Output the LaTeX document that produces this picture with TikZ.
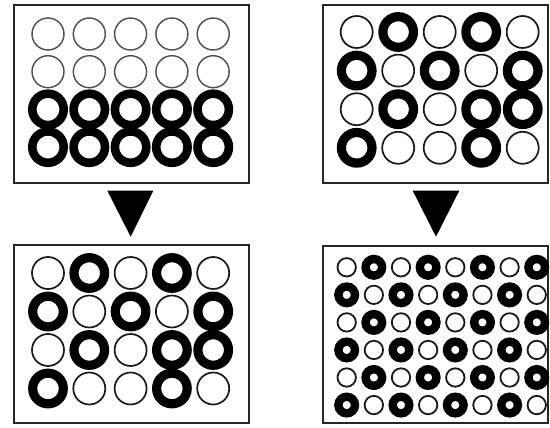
\documentclass[tikz,border=0pt]{standalone}
\begin{document}
\begin{tikzpicture}[x=1pt,y=-1pt,
  panel/.style={draw=black!85, line width=1.6pt, fill=white, inner sep=0pt, outer sep=0pt, anchor=north west},
  thinA/.style={draw=black!70, line width=1.4pt},
  thickA/.style={draw=black, line width=8.6pt},
  thinB/.style={draw=black!90, line width=1.7pt},
  thickB/.style={draw=black, line width=9.2pt},
  thinC/.style={draw=black!90, line width=1.8pt},
  thickC/.style={draw=black, line width=8.4pt},
  arrowtri/.style={fill=black}]
\useasboundingbox (0,0) rectangle (550,428);
\fill[white] (0,0) rectangle (550,428);
% panels
\node[panel, minimum width=235pt, minimum height=178pt] (p1) at (14,5) {};
\node[panel, minimum width=225.3pt, minimum height=178pt] (p2) at (322.7,5) {};
\node[panel, minimum width=235pt, minimum height=177.7pt] (p3) at (14,245) {};
\node[panel, minimum width=225.3pt, minimum height=176.7pt] (p4) at (322.7,246) {};
% panel 1
\foreach \row/\pat in {0/{0,0,0,0,0},1/{0,0,0,0,0},2/{1,1,1,1,1},3/{1,1,1,1,1}}{
  \foreach \k [count=\c from 0] in \pat {
    \ifnum\k=1
      \draw[thickA] ({48+41.3*\c},{34+37.7*\row}) circle (15.7);
    \else
      \draw[thinA] ({48+41.3*\c},{34+37.7*\row}) circle (16);
    \fi
  }
}
% panel 2
\foreach \row/\pat in {0/{0,1,0,1,0},1/{1,0,1,0,1},2/{0,1,0,1,1},3/{1,0,0,1,0}}{
  \foreach \k [count=\c from 0] in \pat {
    \ifnum\k=1
      \draw[thickB] ({356.7+41.5*\c},{32+38.6*\row}) circle (15.3);
    \else
      \draw[thinB] ({356.7+41.5*\c},{32+38.6*\row}) circle (16);
    \fi
  }
}
% panel 3
\foreach \row/\pat in {0/{0,1,0,1,0},1/{1,0,1,0,1},2/{0,1,0,1,1},3/{1,0,0,1,0}}{
  \foreach \k [count=\c from 0] in \pat {
    \ifnum\k=1
      \draw[thickB] ({48+41.3*\c},{273+38.5*\row}) circle (15.3);
    \else
      \draw[thinB] ({48+41.3*\c},{273+38.5*\row}) circle (16);
    \fi
  }
}
% panel 4
\foreach \row/\pat in {0/{0,1,0,1,0,1,0,1},1/{1,0,1,0,1,0,1,0},2/{0,1,0,1,0,1,0,1},3/{1,0,1,0,1,0,1,0},4/{0,1,0,1,0,1,0,1},5/{1,0,1,0,1,0,1,0}}{
  \foreach \k [count=\c from 0] in \pat {
    \ifnum\k=1
      \draw[thickC] ({346.7+27.15*\c},{267.3+27.55*\row}) circle (8.3);
    \else
      \draw[thinC] ({346.7+27.15*\c},{267.3+27.55*\row}) circle (9.2);
    \fi
  }
}
% arrows
\coordinate (t1) at (130.7,236.7);
\coordinate (t2) at (436,236.7);
\fill[arrowtri] (107.3,190.7) -- (153.3,190.7) -- (t1) -- cycle;
\fill[arrowtri] (412.7,190.7) -- (459.3,190.7) -- (t2) -- cycle;
\end{tikzpicture}
\end{document}
